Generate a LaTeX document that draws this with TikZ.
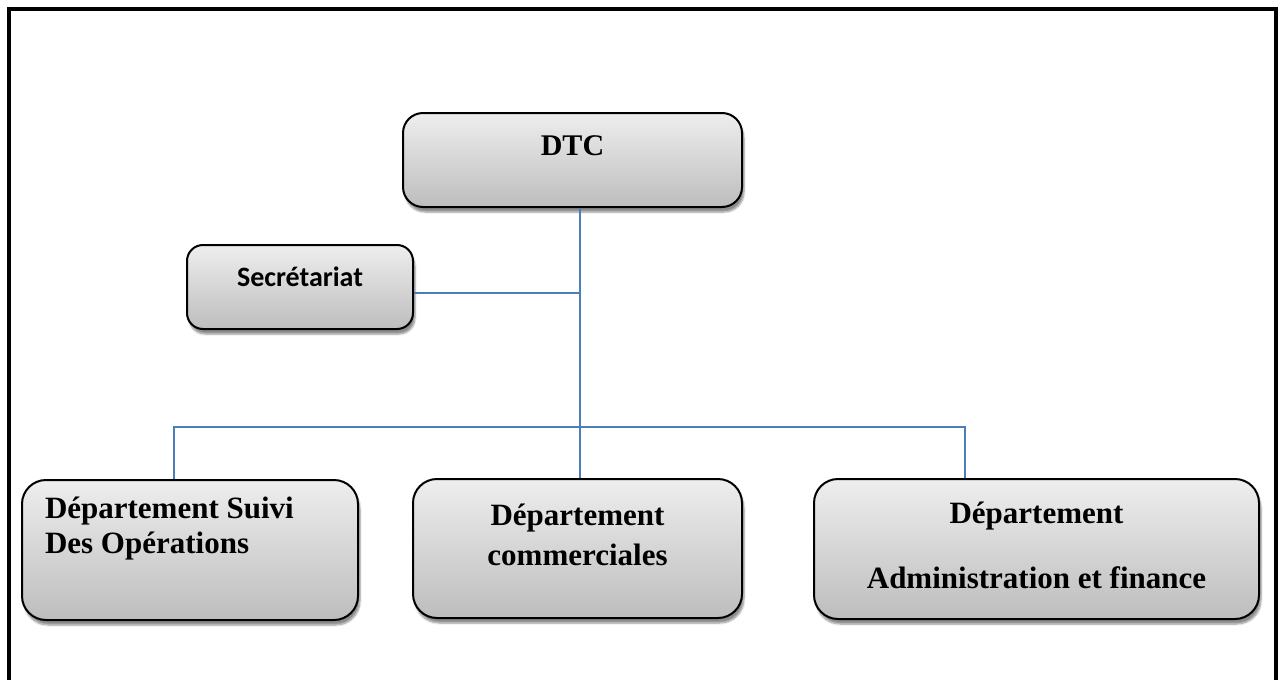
\documentclass[tikz,border=0pt]{standalone}
\usepackage{fontspec}
\setmainfont{Liberation Serif}
\newfontfamily\calib{Carlito}
\usetikzlibrary{shadows.blur}

\definecolor{linkblue}{HTML}{4A7EBB}
\definecolor{boxtop}{HTML}{EEEEEE}
\definecolor{boxbot}{HTML}{BDBDBD}

\tikzset{
  orgbox/.style={draw=black, line width=2pt, rounded corners=20pt,
    top color=boxtop, bottom color=boxbot,
    blur shadow={shadow xshift=2pt, shadow yshift=-5pt, shadow blur steps=6, shadow opacity=45},
    font=\bfseries\fontsize{31}{35}\selectfont, inner sep=0pt},
  link/.style={linkblue, line width=1.8pt}
}

\begin{document}
\begin{tikzpicture}[x=1pt, y=-1pt]
  \useasboundingbox (0,0) rectangle (1280,680);
  % cadre
  \draw[line width=4pt] (9,680) -- (9,9) -- (1276,9) -- (1276,680);

  % boites
  \node[orgbox, minimum width=339pt, minimum height=94pt,
        font=\bfseries\fontsize{30}{35}\selectfont,
        text height=20pt, text depth=30pt] (dtc) at (572.5,160) {DTC};
  \node[orgbox, minimum width=226pt, minimum height=84pt, rounded corners=16pt,
        font=\calib\bfseries\fontsize{28}{32}\selectfont,
        text height=20pt, text depth=22pt] (secr) at (300,287) {Secrétariat};
  \node[orgbox, minimum width=336pt, minimum height=140pt, rounded corners=24pt,
        text width=290pt, align=flush left, inner xsep=23pt,
        text height=20pt, text depth=84pt] (suivi) at (190,550)
        {Département Suivi\\Des Opérations};
  \node[orgbox, minimum width=329pt, minimum height=139pt, rounded corners=24pt,
        align=center, font=\bfseries\fontsize{31}{40}\selectfont,
        text height=53pt, text depth=20pt] (comm) at (577.5,548.5)
        {Département\\commerciales};
  \node[orgbox, minimum width=445pt, minimum height=140pt, rounded corners=24pt,
        align=center, text height=98pt, text depth=20pt] (admin) at (1036.5,549)
        {Département\\[30pt]Administration et finance};

  % liaisons
  \coordinate (hub) at (580,293);
  \coordinate (bar) at (580,427);
  \draw[link] (dtc.south -| hub) -- (comm.north -| hub);
  \draw[link] (secr.east |- hub) -- (hub);
  \draw[link] (suivi.north -| 174,0) |- (bar) -| (admin.north -| 965,0);
\end{tikzpicture}
\end{document}
